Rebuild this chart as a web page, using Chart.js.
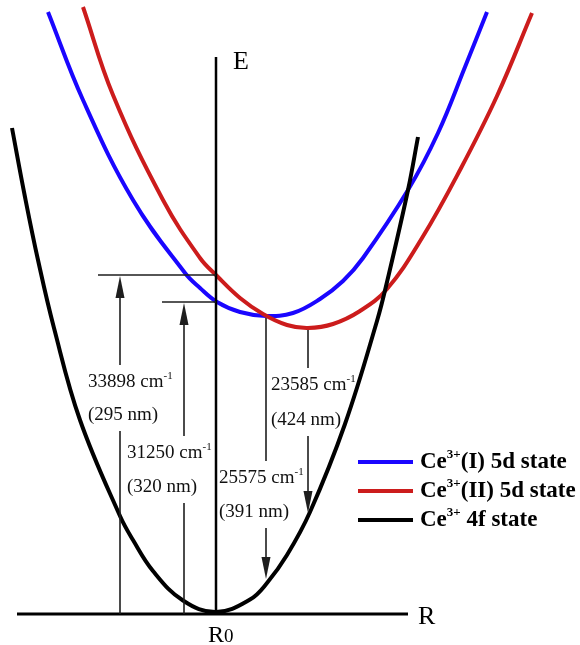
<!DOCTYPE html>
<html>
<head>
<meta charset="utf-8">
<script src="https://cdn.jsdelivr.net/npm/chart.js@4.4.0/dist/chart.umd.min.js"></script>
<style>
    html, body { margin: 0; padding: 0; background: #fff; }
    #wrap { width: 580px; height: 645px; position: relative; }
</style>
</head>
<body>
<div id="wrap"><canvas id="ccDiagram"></canvas></div>
<script>
// Configuration coordinate diagram: x = R - R0 (arb. units), y = E (cm-1)
const ce5dI = [
    [-1.68, 60000], [-1.33, 51200], [-0.83, 41200], [-0.31, 33900], [-0.16, 32400],
    [0.01, 31000], [0.24, 30000], [0.50, 29600], [0.77, 29900], [1.04, 31300],
    [1.27, 33100], [1.47, 35400], [1.92, 42200], [2.22, 47900], [2.49, 54500], [2.71, 60000]
];
const ce5dII = [
    [-1.33, 60500], [-1.03, 51700], [-0.53, 41200], [-0.16, 35400], [0.01, 33600],
    [0.24, 31400], [0.47, 29800], [0.71, 28700], [0.92, 28400], [1.17, 28800],
    [1.44, 30100], [1.71, 32300], [2.06, 37400], [2.44, 44200], [2.81, 51600], [3.16, 59900]
];
const ce4f = [
    [-2.04, 48400], [-1.91, 41500], [-1.78, 35200], [-1.62, 28400], [-1.36, 19200],
    [-0.96, 9600], [-0.83, 7200], [-0.63, 4100], [-0.33, 1150], [0, 0],
    [0.34, 1250], [0.51, 2900], [0.71, 5700], [0.94, 10000], [1.29, 18800],
    [1.61, 29100], [1.71, 33000], [1.92, 42200], [2.02, 47500]
];

// absorption 4f -> 5d (upward arrows from the ground level)
const absR = [-0.96, -0.32];
const absTop = [33700, 31000];
const absCm = ['33898', '31250'];
const absNm = ['295', '320'];

// emission 5d -> 4f (downward arrows)
const emR = [0.50, 0.92];
const emFrom = [29400, 28200];
const emTo = [3300, 9900];
const emCm = ['25575', '23585'];
const emNm = ['391', '424'];

const legendLabels = ['Ce3+(I) 5d state', 'Ce3+(II) 5d state', 'Ce3+ 4f state'];

// label placement (left offset px from arrow, E of the two text lines)
const absLabelPos = [{ dx: -32, e1: 23000, e2: 19700 }, { dx: -57, e1: 15900, e2: 12500 }];
const emLabelPos = [{ dx: -47, e1: 13400, e2: 10000 }, { dx: -37, e1: 22700, e2: 19200 }];

const colors = {
    blue: '#1a06ff',
    red: '#cc1c1c',
    black: '#000000',
    arrow: '#1e1e1e'
};
const serif = "'Liberation Serif', 'Times New Roman', serif";

function toXY(arr) {
    return arr.map(p => ({ x: p[0], y: p[1] }));
}

// draws base text followed by a raised smaller part, returns end x
function richText(ctx, base, sup, rest, x, y, size, weight) {
    ctx.font = weight + ' ' + size + 'px ' + serif;
    ctx.fillText(base, x, y);
    x += ctx.measureText(base).width;
    if (sup) {
        ctx.font = weight + ' ' + Math.round(size * 0.58) + 'px ' + serif;
        ctx.fillText(sup, x, y - size * 0.3);
        x += ctx.measureText(sup).width;
    }
    if (rest) {
        ctx.font = weight + ' ' + size + 'px ' + serif;
        ctx.fillText(rest, x, y);
        x += ctx.measureText(rest).width;
    }
    return x;
}

function arrowHead(ctx, x, tipY, dir) {
    // dir = -1 points up, 1 points down
    ctx.beginPath();
    ctx.moveTo(x, tipY);
    ctx.lineTo(x - 4.5, tipY - dir * 22);
    ctx.lineTo(x + 4.5, tipY - dir * 22);
    ctx.closePath();
    ctx.fill();
}

function vSeg(ctx, x, y1, y2) {
    ctx.beginPath();
    ctx.moveTo(x, y1);
    ctx.lineTo(x, y2);
    ctx.stroke();
}

const diagramPlugin = {
    id: 'diagram',
    afterDatasetsDraw(chart) {
        const ctx = chart.ctx;
        const px = v => chart.scales.x.getPixelForValue(v);
        const py = v => chart.scales.y.getPixelForValue(v);
        const base = py(-200);
        ctx.save();
        ctx.textBaseline = 'middle';
        ctx.textAlign = 'left';

        // axes
        ctx.strokeStyle = '#000';
        ctx.lineWidth = 2.5;
        vSeg(ctx, px(0), base, py(55500));
        ctx.lineWidth = 3;
        ctx.beginPath();
        ctx.moveTo(px(-1.99), base);
        ctx.lineTo(px(1.92), base);
        ctx.stroke();

        ctx.fillStyle = '#000';
        ctx.font = '26px ' + serif;
        ctx.fillText('E', px(0) + 17, py(55000));
        ctx.textBaseline = 'alphabetic';
        ctx.font = '26px ' + serif;
        ctx.fillText('R', px(1.92) + 10, base + 10);
        ctx.font = '24px ' + serif;
        ctx.fillText('R', px(0) - 8, base + 28);
        const rw = ctx.measureText('R').width;
        ctx.font = '19px ' + serif;
        ctx.fillText('0', px(0) - 8 + rw, base + 28);
        ctx.textBaseline = 'middle';

        ctx.strokeStyle = colors.arrow;
        ctx.fillStyle = colors.arrow;
        ctx.lineWidth = 1.6;

        // absorption
        absR.forEach((r, i) => {
            const x = px(r);
            const tip = py(absTop[i]);
            const lp = absLabelPos[i];
            const y1 = py(lp.e1), y2 = py(lp.e2);
            // level marker
            ctx.beginPath();
            ctx.moveTo(x - 22, tip);
            ctx.lineTo(px(0), tip);
            ctx.stroke();
            vSeg(ctx, x, base, y2 + 16);
            vSeg(ctx, x, y1 - 17, tip + 20);
            arrowHead(ctx, x, tip + 1, -1);
            ctx.fillStyle = '#111';
            richText(ctx, absCm[i] + ' cm', '-1', '', x + lp.dx, y1, 19, 'normal');
            richText(ctx, '(' + absNm[i] + ' nm)', '', '', x + lp.dx, y2, 19, 'normal');
            ctx.fillStyle = colors.arrow;
        });

        // emission
        emR.forEach((r, i) => {
            const x = px(r);
            const top = py(emFrom[i]);
            const tip = py(emTo[i]);
            const lp = emLabelPos[i];
            const y1 = py(lp.e1), y2 = py(lp.e2);
            vSeg(ctx, x, top, y1 - 17);
            vSeg(ctx, x, y2 + 16, tip - 20);
            arrowHead(ctx, x, tip, 1);
            ctx.fillStyle = '#111';
            richText(ctx, emCm[i] + ' cm', '-1', '', x + lp.dx, y1, 19, 'normal');
            richText(ctx, '(' + emNm[i] + ' nm)', '', '', x + lp.dx, y2, 19, 'normal');
            ctx.fillStyle = colors.arrow;
        });

        // legend
        const order = [2, 1, 0];
        order.forEach((di, row) => {
            const ds = chart.data.datasets[di];
            const y = 462 + row * 29;
            ctx.strokeStyle = ds.borderColor;
            ctx.lineWidth = 4;
            ctx.beginPath();
            ctx.moveTo(358, y);
            ctx.lineTo(413, y);
            ctx.stroke();
            ctx.fillStyle = '#000';
            const m = ds.label.match(/^(Ce)(3\+)(.*)$/);
            richText(ctx, m[1], m[2], m[3], 420, y, 23, 'bold');
        });
        ctx.restore();
    }
};

new Chart(document.getElementById('ccDiagram'), {
    type: 'scatter',
    data: {
        datasets: [
            {
                label: legendLabels[2],
                data: toXY(ce4f),
                borderColor: colors.black,
                order: 0
            },
            {
                label: legendLabels[1],
                data: toXY(ce5dII),
                borderColor: colors.red,
                order: 1
            },
            {
                label: legendLabels[0],
                data: toXY(ce5dI),
                borderColor: colors.blue,
                order: 2
            }
        ].map(d => Object.assign(d, {
            showLine: true,
            borderWidth: 4,
            pointRadius: 0,
            fill: false,
            tension: 0.4
        }))
    },
    options: {
        responsive: true,
        maintainAspectRatio: false,
        animation: false,
        layout: { padding: 0 },
        plugins: {
            legend: { display: false },
            tooltip: { enabled: false }
        },
        scales: {
            x: { type: 'linear', min: -2.16, max: 3.64, display: false },
            y: { type: 'linear', min: -3300, max: 61200, display: false }
        }
    },
    plugins: [diagramPlugin]
});
</script>
</body>
</html>
